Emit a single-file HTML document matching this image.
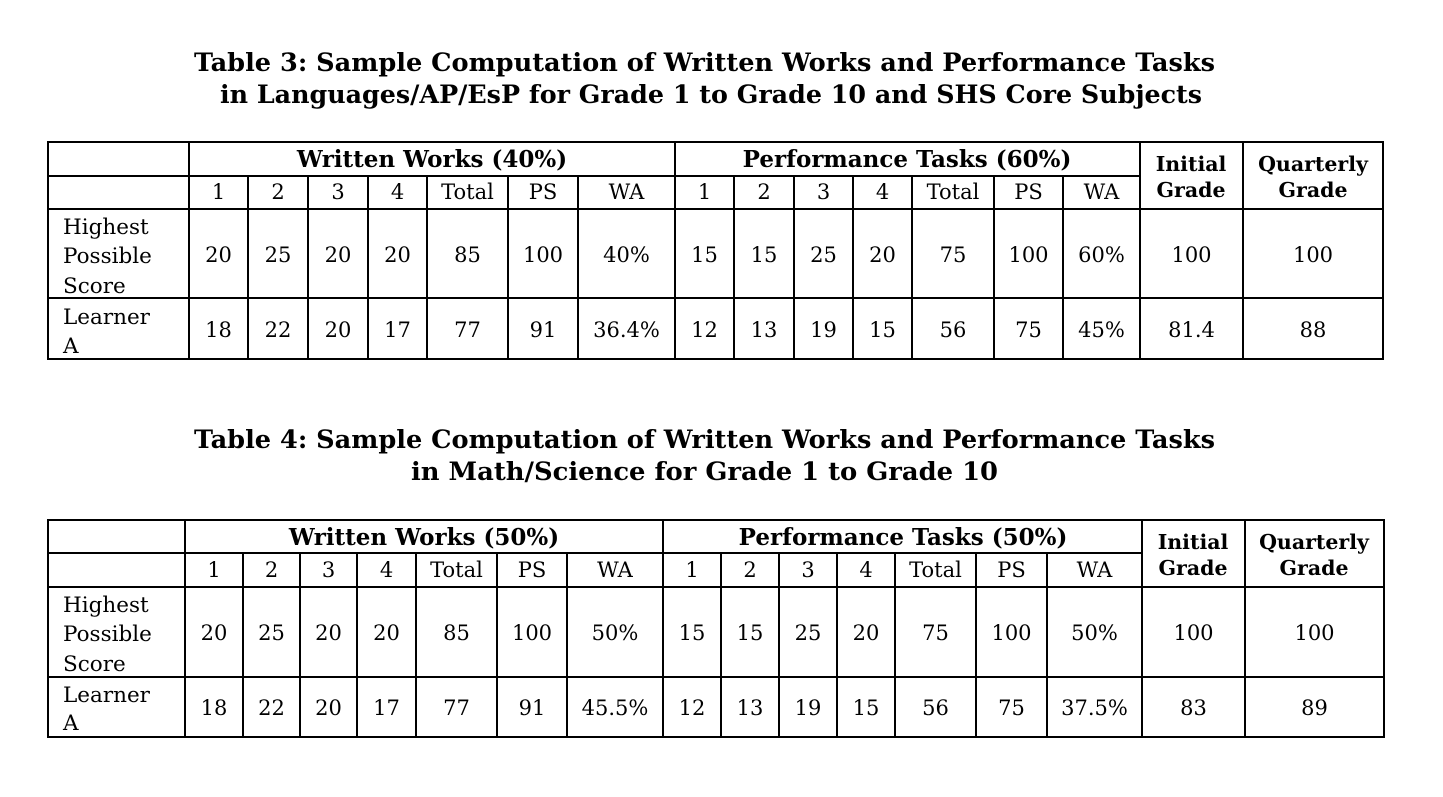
<!DOCTYPE html>
<html><head><meta charset="utf-8"><style>
html,body{margin:0;padding:0;background:#fff;}
svg{display:block;}
text{font-family:"DejaVu Serif","Liberation Serif",serif;fill:#000;}
.t{font-weight:bold;font-size:25px;}
.n{font-size:21px;text-anchor:middle;}
.l{font-size:21.5px;}
.h{font-weight:bold;font-size:23px;text-anchor:middle;}
.g{font-weight:bold;font-size:20.5px;text-anchor:middle;}
line{stroke:#000;stroke-width:2;}
</style></head><body>
<svg width="1443" height="797" viewBox="0 0 1443 797" xmlns="http://www.w3.org/2000/svg">
<text class="t" x="194" y="71" textLength="1021" lengthAdjust="spacingAndGlyphs">Table 3: Sample Computation of Written Works and Performance Tasks</text>
<text class="t" x="220" y="103" textLength="982" lengthAdjust="spacingAndGlyphs">in Languages/AP/EsP for Grade 1 to Grade 10 and SHS Core Subjects</text>

<g>
<line x1="47" y1="142" x2="1384" y2="142"/><line x1="47" y1="176" x2="1140" y2="176"/>
<line x1="47" y1="209" x2="1384" y2="209"/><line x1="47" y1="298" x2="1384" y2="298"/><line x1="47" y1="359" x2="1384" y2="359"/>
<line x1="48" y1="142" x2="48" y2="359"/><line x1="189" y1="142" x2="189" y2="359"/>
<line x1="248" y1="176" x2="248" y2="359"/><line x1="308" y1="176" x2="308" y2="359"/><line x1="368" y1="176" x2="368" y2="359"/><line x1="427" y1="176" x2="427" y2="359"/><line x1="508" y1="176" x2="508" y2="359"/><line x1="578" y1="176" x2="578" y2="359"/>
<line x1="675" y1="142" x2="675" y2="359"/>
<line x1="734" y1="176" x2="734" y2="359"/><line x1="794" y1="176" x2="794" y2="359"/><line x1="853" y1="176" x2="853" y2="359"/><line x1="912" y1="176" x2="912" y2="359"/><line x1="994" y1="176" x2="994" y2="359"/><line x1="1063" y1="176" x2="1063" y2="359"/>
<line x1="1140" y1="142" x2="1140" y2="359"/><line x1="1243" y1="142" x2="1243" y2="359"/><line x1="1383" y1="142" x2="1383" y2="359"/>
<text class="h" x="432" y="167">Written Works (40%)</text>
<text class="h" x="907" y="167">Performance Tasks (60%)</text>
<text class="g" x="1191" y="171">Initial</text><text class="g" x="1191" y="197">Grade</text>
<text class="g" x="1313" y="171">Quarterly</text><text class="g" x="1313" y="197">Grade</text>
<text class="n" x="218.5" y="199">1</text><text class="n" x="278" y="199">2</text><text class="n" x="338" y="199">3</text><text class="n" x="397.5" y="199">4</text><text class="n" x="467.5" y="199">Total</text><text class="n" x="543" y="199">PS</text><text class="n" x="626.5" y="199">WA</text>
<text class="n" x="704.5" y="199">1</text><text class="n" x="764" y="199">2</text><text class="n" x="823.5" y="199">3</text><text class="n" x="882.5" y="199">4</text><text class="n" x="953" y="199">Total</text><text class="n" x="1028.5" y="199">PS</text><text class="n" x="1101.5" y="199">WA</text>
<text class="l" x="63" y="234">Highest</text><text class="l" x="63" y="263">Possible</text><text class="l" x="63" y="293">Score</text>
<text class="n" x="218.5" y="262">20</text><text class="n" x="278" y="262">25</text><text class="n" x="338" y="262">20</text><text class="n" x="397.5" y="262">20</text><text class="n" x="467.5" y="262">85</text><text class="n" x="543" y="262">100</text><text class="n" x="626.5" y="262">40%</text>
<text class="n" x="704.5" y="262">15</text><text class="n" x="764" y="262">15</text><text class="n" x="823.5" y="262">25</text><text class="n" x="882.5" y="262">20</text><text class="n" x="953" y="262">75</text><text class="n" x="1028.5" y="262">100</text><text class="n" x="1101.5" y="262">60%</text><text class="n" x="1191.5" y="262">100</text><text class="n" x="1313" y="262">100</text>
<text class="l" x="63" y="324">Learner</text><text class="l" x="63" y="353">A</text>
<text class="n" x="218.5" y="337">18</text><text class="n" x="278" y="337">22</text><text class="n" x="338" y="337">20</text><text class="n" x="397.5" y="337">17</text><text class="n" x="467.5" y="337">77</text><text class="n" x="543" y="337">91</text><text class="n" x="626.5" y="337">36.4%</text>
<text class="n" x="704.5" y="337">12</text><text class="n" x="764" y="337">13</text><text class="n" x="823.5" y="337">19</text><text class="n" x="882.5" y="337">15</text><text class="n" x="953" y="337">56</text><text class="n" x="1028.5" y="337">75</text><text class="n" x="1101.5" y="337">45%</text><text class="n" x="1191.5" y="337">81.4</text><text class="n" x="1313" y="337">88</text>
</g>

<text class="t" x="194" y="448" textLength="1021" lengthAdjust="spacingAndGlyphs">Table 4: Sample Computation of Written Works and Performance Tasks</text>
<text class="t" x="411" y="480" textLength="587" lengthAdjust="spacingAndGlyphs">in Math/Science for Grade 1 to Grade 10</text>

<g>
<line x1="47" y1="520" x2="1385" y2="520"/><line x1="47" y1="553" x2="1142" y2="553"/>
<line x1="47" y1="587" x2="1385" y2="587"/><line x1="47" y1="677" x2="1385" y2="677"/><line x1="47" y1="737" x2="1385" y2="737"/>
<line x1="48" y1="520" x2="48" y2="737"/><line x1="185" y1="520" x2="185" y2="737"/>
<line x1="243" y1="553" x2="243" y2="737"/><line x1="300" y1="553" x2="300" y2="737"/><line x1="357" y1="553" x2="357" y2="737"/><line x1="416" y1="553" x2="416" y2="737"/><line x1="497" y1="553" x2="497" y2="737"/><line x1="567" y1="553" x2="567" y2="737"/>
<line x1="663" y1="520" x2="663" y2="737"/>
<line x1="721" y1="553" x2="721" y2="737"/><line x1="779" y1="553" x2="779" y2="737"/><line x1="837" y1="553" x2="837" y2="737"/><line x1="895" y1="553" x2="895" y2="737"/><line x1="976" y1="553" x2="976" y2="737"/><line x1="1047" y1="553" x2="1047" y2="737"/>
<line x1="1142" y1="520" x2="1142" y2="737"/><line x1="1245" y1="520" x2="1245" y2="737"/><line x1="1384" y1="520" x2="1384" y2="737"/>
<text class="h" x="424" y="545">Written Works (50%)</text>
<text class="h" x="903" y="545">Performance Tasks (50%)</text>
<text class="g" x="1193" y="549">Initial</text><text class="g" x="1193" y="575">Grade</text>
<text class="g" x="1314" y="549">Quarterly</text><text class="g" x="1314" y="575">Grade</text>
<text class="n" x="214" y="577">1</text><text class="n" x="271.5" y="577">2</text><text class="n" x="328.5" y="577">3</text><text class="n" x="386.5" y="577">4</text><text class="n" x="456.5" y="577">Total</text><text class="n" x="532" y="577">PS</text><text class="n" x="615" y="577">WA</text>
<text class="n" x="692" y="577">1</text><text class="n" x="750" y="577">2</text><text class="n" x="808" y="577">3</text><text class="n" x="866" y="577">4</text><text class="n" x="935.5" y="577">Total</text><text class="n" x="1011.5" y="577">PS</text><text class="n" x="1094.5" y="577">WA</text>
<text class="l" x="63" y="612">Highest</text><text class="l" x="63" y="641">Possible</text><text class="l" x="63" y="671">Score</text>
<text class="n" x="214" y="640">20</text><text class="n" x="271.5" y="640">25</text><text class="n" x="328.5" y="640">20</text><text class="n" x="386.5" y="640">20</text><text class="n" x="456.5" y="640">85</text><text class="n" x="532" y="640">100</text><text class="n" x="615" y="640">50%</text>
<text class="n" x="692" y="640">15</text><text class="n" x="750" y="640">15</text><text class="n" x="808" y="640">25</text><text class="n" x="866" y="640">20</text><text class="n" x="935.5" y="640">75</text><text class="n" x="1011.5" y="640">100</text><text class="n" x="1094.5" y="640">50%</text><text class="n" x="1193.5" y="640">100</text><text class="n" x="1314.5" y="640">100</text>
<text class="l" x="63" y="702">Learner</text><text class="l" x="63" y="730">A</text>
<text class="n" x="214" y="715">18</text><text class="n" x="271.5" y="715">22</text><text class="n" x="328.5" y="715">20</text><text class="n" x="386.5" y="715">17</text><text class="n" x="456.5" y="715">77</text><text class="n" x="532" y="715">91</text><text class="n" x="615" y="715">45.5%</text>
<text class="n" x="692" y="715">12</text><text class="n" x="750" y="715">13</text><text class="n" x="808" y="715">19</text><text class="n" x="866" y="715">15</text><text class="n" x="935.5" y="715">56</text><text class="n" x="1011.5" y="715">75</text><text class="n" x="1094.5" y="715">37.5%</text><text class="n" x="1193.5" y="715">83</text><text class="n" x="1314.5" y="715">89</text>
</g>
</svg>
</body></html>
